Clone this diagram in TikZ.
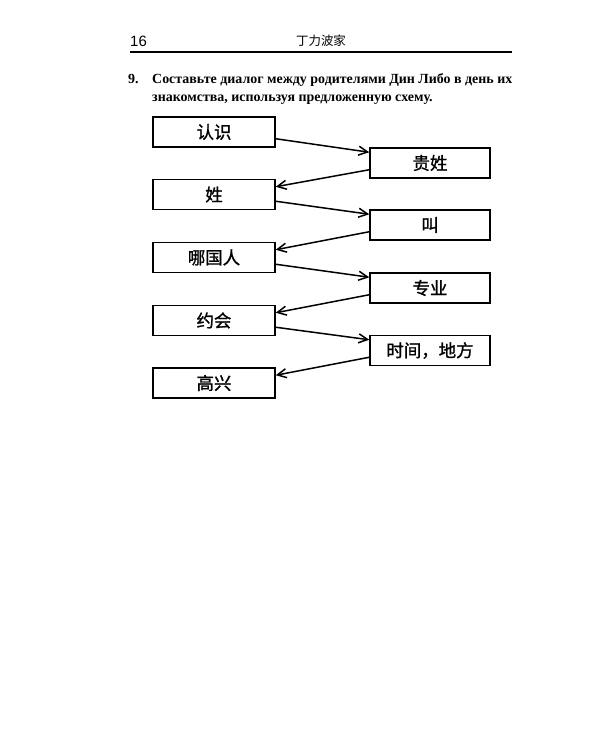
\documentclass[tikz,border=0pt]{standalone}
\usepackage{fontspec}
\setmainfont{Liberation Serif}
\newfontfamily\cjk{Noto Sans CJK SC}[FakeBold=1.2]
\newfontfamily\cjkh{Noto Sans CJK SC}
\newfontfamily\hdr{Liberation Sans}
\usetikzlibrary{arrows.meta,calc}
\begin{document}
\begin{tikzpicture}[x=1bp,y=-1bp,
  box/.style={draw,line width=1.5bp,minimum height=30bp,inner sep=0pt,font=\cjk\fontsize{17.5}{20}\selectfont},
  lbox/.style={box,minimum width=122bp},
  rbox/.style={box,minimum width=120bp},
  conn/.style={line width=1.5bp,-{Straight Barb[length=9bp,width=9bp,line width=1.5bp]}},
  ru/.style={anchor=base west,inner sep=0pt,font=\bfseries\fontsize{14}{17}\selectfont}]
\useasboundingbox[fill=white] (0,0) rectangle (600,750);
% header
\node[anchor=base west,inner sep=0pt,font=\hdr\fontsize{15}{17}\selectfont] (pg) at (130,47) {16};
\node[anchor=base,inner sep=0pt,font=\cjkh\fontsize{12.5}{15}\selectfont] (ttl) at (321,46) {丁力波家};
\coordinate (hl) at (130,52);
\coordinate (hr) at (512,52);
\draw[line width=1.5bp] (hl) -- (hr);
% task
\node[ru] (num) at (128,83.5) {9.};
\node[ru] (t1) at (152,83.5) {Составьте диалог между родителями Дин Либо в день их};
\node[ru] (t2) at (152,101.5) {знакомства, используя предложенную схему.};
% boxes
\node[lbox] (L1) at (214,132) {认识};
\node[lbox] (L2) at (214,194.5) {姓};
\node[lbox] (L3) at (214,257.5) {哪国人};
\node[lbox] (L4) at (214,320.5) {约会};
\node[lbox] (L5) at (214,383) {高兴};
\node[rbox] (R1) at (430,163) {贵姓};
\node[rbox] (R2) at (430,225) {叫};
\node[rbox] (R3) at (430,288) {专业};
\node[rbox] (R4) at (430,350.5) {时间，地方};
% arrows
\draw[conn] ($(L1.south east)+(0,-9)$) -- ($(R1.north west)+(0,5)$);
\draw[conn] ($(R1.south west)+(0,-9)$) -- ($(L2.north east)+(0,8)$);
\draw[conn] ($(L2.south east)+(0,-9)$) -- ($(R2.north west)+(0,5)$);
\draw[conn] ($(R2.south west)+(0,-9)$) -- ($(L3.north east)+(0,8)$);
\draw[conn] ($(L3.south east)+(0,-9)$) -- ($(R3.north west)+(0,5)$);
\draw[conn] ($(R3.south west)+(0,-9)$) -- ($(L4.north east)+(0,8)$);
\draw[conn] ($(L4.south east)+(0,-9)$) -- ($(R4.north west)+(0,5)$);
\draw[conn] ($(R4.south west)+(0,-9)$) -- ($(L5.north east)+(0,8)$);
\end{tikzpicture}
\end{document}
